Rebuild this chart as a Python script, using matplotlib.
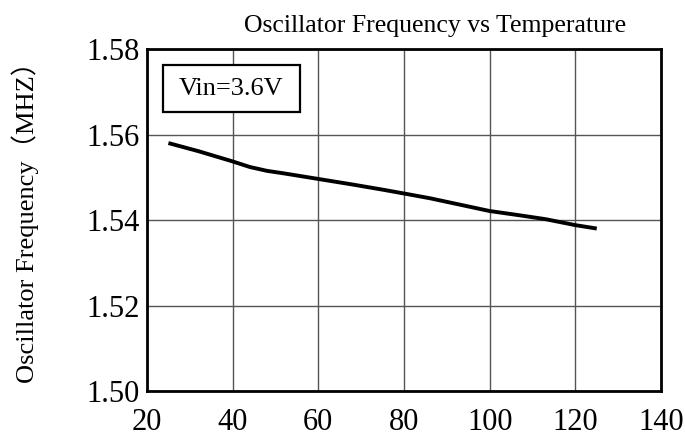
import matplotlib
matplotlib.use('Agg')
import matplotlib.pyplot as plt
from matplotlib.patches import Rectangle

# data
temps = [25, 32, 40, 44, 48, 52, 60, 68, 75, 80, 86, 93, 100, 107, 113, 120, 125]
freqs = [1.5580, 1.5561, 1.5537, 1.5524, 1.5515, 1.5509, 1.5496, 1.5483,
         1.5471, 1.5462, 1.5451, 1.5436, 1.5421, 1.5411, 1.5402, 1.5388, 1.5380]
xticks = [20, 40, 60, 80, 100, 120, 140]
yticks = [1.50, 1.52, 1.54, 1.56, 1.58]
title = 'Oscillator Frequency vs Temperature'
ylabel = 'Oscillator Frequency\uff08MHZ\uff09'
note = 'Vin=3.6V'

plt.rcParams['font.family'] = ['Liberation Serif', 'Noto Sans CJK SC']

fig = plt.figure(figsize=(6.85, 4.36), dpi=100)
ax = fig.add_axes([0.2146, 0.1032, 0.965 - 0.2146, 0.8876 - 0.1032])

ax.plot(temps, freqs, color='black', lw=2.8, solid_capstyle='butt',
        solid_joinstyle='round')

ax.set_xlim(20, 140)
ax.set_ylim(1.50, 1.58)
ax.set_xticks(xticks)
ax.set_yticks(yticks)
ax.set_yticklabels(['%.2f' % v for v in yticks])
ax.tick_params(length=0, labelsize=22)
ax.tick_params(axis='x', pad=12)
ax.tick_params(axis='y', pad=5)
ax.grid(True, color='#555555', lw=1)
ax.set_axisbelow(True)
for s in ax.spines.values():
    s.set_linewidth(2)
    s.set_color('black')

ax.add_patch(Rectangle((0.031, 0.816), 0.267, 0.137, transform=ax.transAxes,
                       fill=True, facecolor='white', edgecolor='black', lw=1.6,
                       zorder=5))
ax.text(0.164, 0.884, note, transform=ax.transAxes, ha='center', va='center',
        fontsize=19, zorder=6)

fig.text(0.635, 0.9266, title, ha='center', va='baseline', fontsize=18.5)
fig.text(0.037, 0.505, ylabel, ha='center', va='center', rotation=90,
         fontsize=19)

fig.savefig('out.png', dpi=100)
